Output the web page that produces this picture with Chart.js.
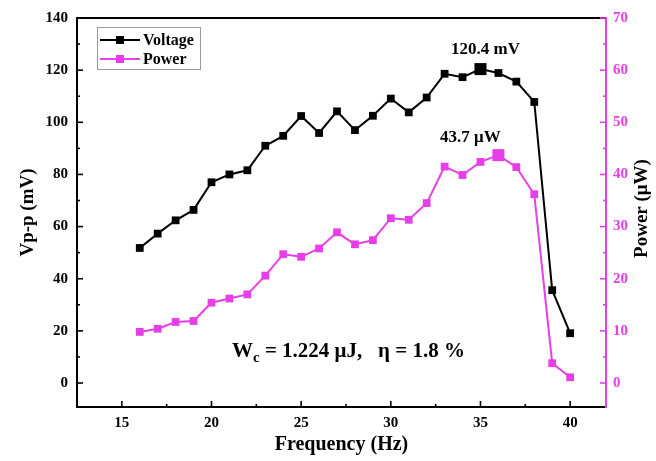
<!DOCTYPE html>
<html><head><meta charset="utf-8">
<script src="https://cdn.jsdelivr.net/npm/chart.js@4/dist/chart.umd.min.js"></script>
<style>html,body{margin:0;padding:0;background:#fff}canvas{display:block}</style>
</head><body>
<canvas id="c" width="656" height="461"></canvas>
<script>
const frequency = [16,17,18,19,20,21,22,23,24,25,26,27,28,29,30,31,32,33,34,35,36,37,38,39,40];
const voltage = [51.8,57.3,62.4,66.4,77.0,80.0,81.6,91.0,94.8,102.4,95.9,104.2,97.0,102.5,109.1,103.8,109.5,118.6,117.3,120.4,118.9,115.6,107.8,35.6,19.1];
const power = [9.8,10.4,11.7,11.9,15.4,16.2,17.0,20.6,24.7,24.2,25.8,28.9,26.6,27.4,31.6,31.3,34.5,41.5,39.9,42.4,43.7,41.4,36.2,3.8,1.1];
const xTicks = [15,20,25,30,35,40];
const xMinorTicks = [17.5,22.5,27.5,32.5,37.5];
const vTicks = [0,20,40,60,80,100,120,140];
const vMinorTicks = [10,30,50,70,90,110,130];
const pTicks = [0,10,20,30,40,50,60,70];
const pMinorTicks = [5,15,25,35,45,55,65];
const seriesNames = ['Voltage','Power'];
const peakLabels = ['120.4 mV','43.7 μW'];
const noteMain = 'W';
const noteSub = 'c';
const noteRest = ' = 1.224 μJ,   η = 1.8 %';

const SERIF = '"Liberation Serif", "Times New Roman", serif';
const MAG = '#e83ee8';
const vPeak = voltage.indexOf(Math.max(...voltage));
const pPeak = power.indexOf(Math.max(...power));

const decor = {
  id: 'decor',
  afterDraw(chart) {
    const ctx = chart.ctx, a = chart.chartArea;
    const sx = chart.scales.x, sy = chart.scales.y, sp = chart.scales.y1;
    ctx.save();
    ctx.strokeStyle = '#000'; ctx.lineWidth = 2;
    ctx.beginPath(); ctx.moveTo(a.left - 1, a.top); ctx.lineTo(a.right, a.top); ctx.stroke();
    const tick = (x1, y1, x2, y2, c) => {
      ctx.strokeStyle = c; ctx.lineWidth = 1.6;
      ctx.beginPath(); ctx.moveTo(x1, y1); ctx.lineTo(x2, y2); ctx.stroke();
    };
    xTicks.forEach(v => { const x = sx.getPixelForValue(v); tick(x, a.bottom, x, a.bottom - 6, '#000'); });
    xMinorTicks.forEach(v => { const x = sx.getPixelForValue(v); tick(x, a.bottom, x, a.bottom - 3, '#000'); });
    vTicks.forEach(v => { const y = sy.getPixelForValue(v); tick(a.left, y, a.left + 6, y, '#000'); });
    vMinorTicks.forEach(v => { const y = sy.getPixelForValue(v); tick(a.left, y, a.left + 3, y, '#000'); });
    pTicks.forEach(v => { const y = sp.getPixelForValue(v); tick(a.right, y, a.right - 6, y, MAG); });
    pMinorTicks.forEach(v => { const y = sp.getPixelForValue(v); tick(a.right, y, a.right - 3, y, MAG); });

    ctx.save();
    ctx.translate(sp.left + 36, (a.top + a.bottom) / 2 - 4);
    ctx.rotate(-Math.PI / 2);
    ctx.fillStyle = '#000'; ctx.font = 'bold 19px ' + SERIF;
    ctx.textAlign = 'center'; ctx.textBaseline = 'middle';
    ctx.fillText('Power (μW)', 0, 0);
    ctx.restore();

    const bx = a.left + 20, by = a.top + 9, bw = 103, bh = 42;
    ctx.fillStyle = '#fff'; ctx.fillRect(bx, by, bw, bh);
    ctx.strokeStyle = '#9a9a9a'; ctx.lineWidth = 1;
    ctx.strokeRect(bx + 0.5, by + 0.5, bw, bh);
    chart.data.datasets.forEach((ds, i) => {
      const ly = by + 13 + i * 19;
      ctx.strokeStyle = ds.borderColor; ctx.lineWidth = 2;
      ctx.beginPath(); ctx.moveTo(bx + 3, ly); ctx.lineTo(bx + 43, ly); ctx.stroke();
      ctx.fillStyle = ds.backgroundColor; ctx.fillRect(bx + 23 - 4, ly - 4, 8, 8);
      ctx.fillStyle = '#000'; ctx.font = 'bold 16px ' + SERIF;
      ctx.textAlign = 'left'; ctx.textBaseline = 'middle';
      ctx.fillText(ds.label, bx + 46, ly + 1);
    });

    ctx.fillStyle = '#000'; ctx.font = 'bold 17px ' + SERIF;
    ctx.textAlign = 'center'; ctx.textBaseline = 'middle';
    ctx.fillText(peakLabels[0], sx.getPixelForValue(frequency[vPeak]) + 5, sy.getPixelForValue(voltage[vPeak]) - 19);
    ctx.fillText(peakLabels[1], sx.getPixelForValue(frequency[pPeak]) - 28, sp.getPixelForValue(power[pPeak]) - 18);

    let nx = a.left + 155; const ny = a.top + 334;
    ctx.textAlign = 'left'; ctx.textBaseline = 'middle';
    ctx.font = 'bold 21px ' + SERIF; ctx.fillText(noteMain, nx, ny);
    nx += ctx.measureText(noteMain).width;
    ctx.font = 'bold 15px ' + SERIF; ctx.fillText(noteSub, nx, ny + 6);
    nx += ctx.measureText(noteSub).width;
    ctx.font = 'bold 21px ' + SERIF; ctx.fillText(noteRest, nx, ny);
    ctx.restore();
  }
};

const tickFont = { family: SERIF, size: 15, weight: 'bold' };
new Chart(document.getElementById('c'), {
  type: 'line',
  data: {
    datasets: [
      {
        label: seriesNames[0],
        data: frequency.map((f, i) => ({ x: f, y: voltage[i] })),
        yAxisID: 'y',
        borderColor: '#000', backgroundColor: '#000',
        borderWidth: 2, tension: 0,
        pointStyle: 'rect',
        pointRadius: c => c.dataIndex === vPeak ? 8.5 : 5.5,
        pointBorderWidth: 0
      },
      {
        label: seriesNames[1],
        data: frequency.map((f, i) => ({ x: f, y: power[i] })),
        yAxisID: 'y1',
        borderColor: MAG, backgroundColor: MAG,
        borderWidth: 2, tension: 0,
        pointStyle: 'rect',
        pointRadius: c => c.dataIndex === pPeak ? 8.5 : 5.5,
        pointBorderWidth: 0
      }
    ]
  },
  options: {
    responsive: false, animation: false, devicePixelRatio: 1,
    layout: { padding: { top: 18, left: 0, right: 0, bottom: 0 } },
    plugins: { legend: { display: false }, tooltip: { enabled: false } },
    scales: {
      x: {
        type: 'linear', position: 'bottom', min: 12.5, max: 42,
        afterBuildTicks: s => { s.ticks = xTicks.map(v => ({ value: v })); },
        afterFit: s => { s.height = 54; },
        ticks: { font: tickFont, color: '#000', padding: 7, maxRotation: 0, autoSkip: false },
        grid: { display: true, drawOnChartArea: false, drawTicks: false },
        border: { display: true, color: '#000', width: 2 },
        title: { display: true, text: 'Frequency (Hz)', color: '#000',
          font: { family: SERIF, size: 20, weight: 'bold' }, padding: { top: 0, bottom: 4 } }
      },
      y: {
        type: 'linear', position: 'left', min: -9.2, max: 140,
        afterBuildTicks: s => { s.ticks = vTicks.map(v => ({ value: v })); },
        afterFit: s => { s.width = 77; },
        ticks: { font: tickFont, color: '#000', padding: 9 },
        grid: { display: true, drawOnChartArea: false, drawTicks: false },
        border: { display: true, color: '#000', width: 2 },
        title: { display: true, text: 'Vp-p (mV)', color: '#000',
          font: { family: SERIF, size: 19, weight: 'bold' }, padding: { top: 17, bottom: 0 } }
      },
      y1: {
        type: 'linear', position: 'right', min: -4.6, max: 70,
        afterBuildTicks: s => { s.ticks = pTicks.map(v => ({ value: v })); },
        afterFit: s => { s.width = 50; },
        ticks: { font: tickFont, color: MAG, padding: 7 },
        grid: { display: true, drawOnChartArea: false, drawTicks: false },
        border: { display: true, color: MAG, width: 2 }
      }
    }
  },
  plugins: [decor]
});
</script>
</body></html>
